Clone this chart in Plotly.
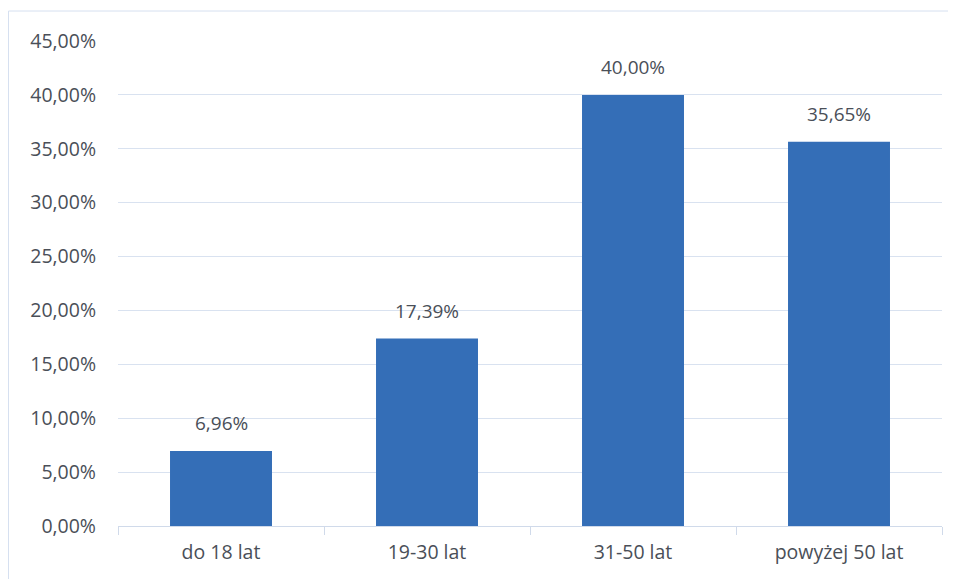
import plotly.graph_objects as go

categories = ["do 18 lat", "19-30 lat", "31-50 lat", "powyżej 50 lat"]
values = [0.0696, 0.1739, 0.4000, 0.3565]
labels = ["6,96%", "17,39%", "40,00%", "35,65%"]

fig = go.Figure()
fig.add_trace(go.Bar(
    x=categories, y=values,
    marker=dict(color="#346EB7", line=dict(width=0)),
    width=0.495,
    hoverinfo="skip",
))
for c, v, t in zip(categories, values, labels):
    fig.add_annotation(x=c, y=v, text=t, showarrow=False, yanchor="bottom",
                       yshift=13, font=dict(size=19, color="#4a4f58", family="Open Sans"))

fig.update_layout(
    width=948, height=571,
    margin=dict(l=110, r=14, t=33, b=53),
    paper_bgcolor="white", plot_bgcolor="white",
    separators=", ",
    showlegend=False,
    font=dict(family="Open Sans", size=19, color="#4a4f58"),
    xaxis=dict(showgrid=False, showline=True, linecolor="#D0DAEA", linewidth=1,
               ticks="outside", tickson="boundaries", ticklen=8, tickcolor="#D0DAEA",
               ticklabelstandoff=9,
               tickfont=dict(size=19.5, color="#4a4f58")),
    yaxis=dict(range=[0, 0.45], dtick=0.05, tickformat=".2%", showgrid=True,
               gridcolor="#D9E2F0", gridwidth=1, zeroline=False, showline=False,
               ticks="", ticklabelstandoff=21,
               tickfont=dict(size=19.5, color="#4a4f58")),
    shapes=[dict(type="rect", xref="paper", yref="paper",
                 x0=-109.5/824, x1=1 + 40/824, y0=-0.2, y1=1 + 30/485,
                 line=dict(color="#D6E0F0", width=1))],
)
fig.write_html("out.html")
